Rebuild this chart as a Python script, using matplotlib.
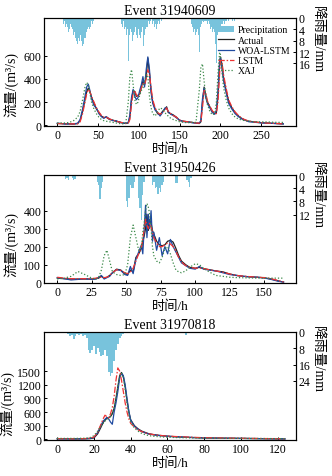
import matplotlib
matplotlib.use("Agg")
import matplotlib.pyplot as plt
import numpy as np
from matplotlib.patches import Patch
from matplotlib.lines import Line2D

plt.rcParams['font.family'] = ['Liberation Serif', 'Noto Sans CJK SC']
plt.rcParams['axes.unicode_minus'] = False

series_names = ["Actual", "WOA-LSTM", "LSTM", "XAJ"]

# ---------------- Event 31940609 ----------------
e1_title = "Event 31940609"
e1_t = [0, 5, 10, 15, 20, 25, 28, 31, 34, 36, 38, 40, 42, 45, 48, 51, 54, 57, 60, 64, 68, 72, 76, 80, 84,
        87, 89, 91, 93, 95, 97, 99, 101, 103, 105, 107, 109, 111, 113, 115, 117, 120, 123, 126, 129, 132,
        134, 136, 139, 142, 146, 150, 155, 160, 165, 170, 174, 176, 178, 180, 182, 184, 187, 190, 193, 195,
        197, 199, 200, 202, 204, 207, 210, 214, 218, 222, 226, 230, 235, 240, 250, 260, 270, 277]
e1_actual = [15, 15, 12, 12, 10, 15, 40, 120, 220, 290, 320, 290, 240, 190, 140, 110, 80, 65, 70, 50, 45, 35, 30, 20, 15,
             20, 70, 220, 300, 290, 250, 260, 270, 330, 380, 350, 420, 580, 450, 300, 200, 140, 100, 90, 120, 140,
             160, 110, 100, 90, 70, 40, 35, 30, 25, 20, 15, 30, 200, 330, 260, 200, 160, 120, 100, 110,
             250, 520, 590, 520, 400, 300, 210, 150, 110, 80, 60, 45, 35, 30, 22, 18, 15, 12]
e1_woa = [18, 15, 10, 12, 12, 18, 50, 140, 250, 330, 355, 300, 230, 170, 150, 100, 75, 60, 75, 55, 40, 40, 25, 20, 18,
          25, 90, 240, 310, 250, 220, 240, 300, 350, 420, 330, 480, 590, 480, 280, 190, 130, 110, 80, 110, 150,
          150, 120, 95, 85, 65, 45, 30, 30, 22, 18, 20, 40, 230, 320, 240, 190, 150, 110, 95, 130,
          300, 560, 580, 480, 380, 280, 190, 140, 100, 75, 55, 45, 30, 28, 20, 18, 14, 12]
e1_lstm = [15, 14, 12, 12, 12, 12, 30, 100, 200, 270, 310, 290, 250, 200, 150, 115, 85, 70, 70, 55, 45, 35, 28, 22, 18,
           18, 50, 180, 280, 300, 260, 250, 270, 320, 360, 350, 400, 480, 440, 320, 220, 150, 110, 95, 110, 130,
           150, 120, 100, 85, 70, 45, 35, 30, 25, 20, 18, 25, 150, 300, 280, 210, 165, 125, 105, 100,
           200, 450, 560, 540, 430, 320, 220, 160, 115, 85, 62, 48, 36, 30, 22, 18, 15, 12]
e1_xaj = [20, 20, 20, 25, 40, 70, 120, 220, 330, 370, 350, 280, 200, 140, 100, 70, 50, 40, 35, 30, 25, 20, 15, 12, 20,
          200, 420, 480, 350, 220, 180, 200, 260, 300, 320, 380, 440, 420, 250, 150, 100, 80, 120, 150, 140, 110,
          90, 80, 60, 50, 40, 30, 25, 22, 25, 25, 300, 500, 530, 380, 250, 180, 120, 90, 100, 200,
          450, 630, 610, 450, 320, 220, 150, 100, 70, 55, 45, 40, 35, 30, 30, 28, 25, 25]
e1_pt = list(range(7, 46)) + list(range(79, 129)) + list(range(165, 208)) + [210, 212, 215, 217, 220]
e1_p = [1, 2, 1, 3, 2, 4, 3, 5, 4, 2, 3, 5, 4, 6, 5, 7, 6, 8, 9, 7, 8, 6, 9, 8, 10, 9, 7, 6, 7, 5, 4, 3, 4, 2, 3, 1, 2, 1, 1,
        2, 3, 1, 4, 5, 3, 6, 4, 15, 5, 6, 4, 5, 8, 6, 4, 5, 3, 6, 7, 5, 4, 6, 7, 5, 3, 4, 10, 6, 4, 3, 2, 3, 1, 2, 1,
        0.5, 1, 2, 1, 3, 2, 1, 4, 2, 1, 2, 1, 0.5, 1,
        2, 3, 5, 4, 6, 3, 5, 4, 6, 12, 5, 3, 2, 1, 1.5, 1, 2, 1, 1, 2, 1, 3, 2, 4, 3, 5, 4, 6, 5, 9, 16, 6, 4, 5, 3,
        4, 2, 3, 2, 1, 2, 1, 1, 1, 0.5, 1, 1, 0.5]

# ---------------- Event 31950426 ----------------
e2_title = "Event 31950426"
e2_t = [0, 5, 10, 15, 20, 25, 28, 30, 32, 34, 36, 38, 40, 43, 46, 49, 51, 53, 55, 57, 59, 61, 62, 63, 64, 65, 66,
        67, 68, 69, 70, 72, 74, 76, 78, 80, 82, 84, 86, 88, 90, 93, 96, 100, 103, 106, 110, 115, 120, 125, 130,
        135, 140, 145, 150, 155, 160, 164]
e2_actual = [25, 22, 20, 20, 20, 20, 22, 25, 35, 25, 30, 40, 55, 75, 70, 50, 45, 70, 60, 140, 160, 190, 230, 260, 300,
             380, 290, 350, 330, 290, 270, 230, 210, 205, 210, 230, 235, 225, 190, 150, 120, 100, 85, 80, 85, 78,
             72, 65, 60, 48, 40, 35, 32, 30, 27, 20, 10, 3]
e2_woa = [28, 22, 15, 18, 22, 18, 20, 30, 40, 20, 28, 35, 55, 72, 68, 45, 40, 90, 50, 130, 170, 210, 160, 300, 430,
          250, 380, 300, 400, 230, 280, 180, 250, 150, 200, 160, 240, 200, 170, 140, 110, 95, 80, 75, 90, 75,
          70, 65, 55, 45, 40, 35, 32, 30, 26, 18, 8, 3]
e2_lstm = [30, 25, 22, 22, 22, 22, 25, 28, 30, 28, 30, 40, 55, 72, 68, 55, 50, 60, 80, 120, 160, 200, 240, 300, 350,
           320, 300, 330, 310, 280, 250, 220, 200, 200, 210, 220, 215, 200, 175, 140, 115, 95, 85, 80, 82, 78,
           72, 65, 58, 48, 40, 36, 33, 30, 28, 22, 12, 4]
e2_xaj = [20, 25, 35, 62, 45, 25, 20, 30, 70, 150, 180, 120, 60, 45, 40, 45, 100, 250, 320, 250, 180, 200, 280, 330,
          400, 440, 420, 380, 300, 200, 150, 120, 110, 140, 190, 200, 160, 110, 70, 60, 55, 65, 85, 105, 100, 80,
          60, 40, 35, 30, 28, 27, 26, 25, 25, 25, 25, 25]
e2_pt = [6, 7, 8, 11, 12, 13, 29, 30, 31, 32, 33, 50, 51, 52, 53, 54, 55, 56, 59, 60, 61, 62, 63,
         69, 70, 71, 72, 73, 74, 75, 76, 77, 86, 87, 94, 95, 96, 97]
e2_p = [1.2, 1, 1.5, 1, 1.5, 1.2, 2, 3, 7.3, 4, 2, 8, 9.6, 7, 3, 4, 4, 2, 7, 10, 13.6, 6, 2,
        3, 2, 4, 3.6, 5.9, 4, 5, 3, 2, 2.5, 2.5, 1.5, 2, 3.5, 1]

# ---------------- Event 31970818 ----------------
e3_title = "Event 31970818"
e3_t = [0, 5, 10, 15, 18, 20, 22, 24, 25, 26, 27, 28, 29, 30, 31, 32, 33, 34, 35, 36, 37, 38, 39, 40, 42, 44, 46,
        48, 50, 53, 56, 60, 65, 70, 80, 90, 100, 110, 120, 124]
e3_actual = [10, 10, 8, 10, 15, 30, 120, 280, 370, 420, 460, 480, 500, 560, 680, 900, 1150, 1400, 1470, 1380, 1150,
             850, 600, 430, 300, 230, 180, 150, 120, 100, 85, 70, 55, 45, 30, 25, 20, 15, 10, 8]
e3_woa = [12, 10, 10, 12, 20, 40, 150, 320, 400, 440, 480, 450, 380, 330, 600, 800, 1050, 1350, 1450, 1400, 1200,
          900, 620, 420, 290, 220, 170, 140, 115, 95, 80, 65, 55, 45, 30, 25, 20, 15, 10, 8]
e3_lstm = [15, 12, 12, 15, 25, 50, 150, 350, 450, 530, 500, 470, 560, 700, 950, 1300, 1570, 1500, 1300, 1050, 800,
           600, 450, 350, 270, 210, 170, 140, 120, 100, 85, 70, 60, 50, 35, 28, 22, 18, 12, 10]
e3_xaj = [20, 20, 20, 25, 40, 80, 180, 300, 350, 400, 430, 460, 500, 580, 700, 900, 1150, 1380, 1450, 1350, 1100,
          800, 550, 380, 250, 180, 130, 100, 80, 65, 55, 45, 38, 32, 25, 22, 20, 18, 15, 15]
e3_pt = [6, 7, 8, 9, 10, 11, 12, 13, 14, 15, 16, 17, 18, 19, 20, 21, 22, 23, 24, 25, 26, 27, 28, 29, 30, 31, 32,
         33, 34, 35, 36, 70]
e3_p = [1, 2, 1.5, 3.5, 2, 1, 1.5, 1, 2, 1.5, 3, 9, 10.5, 9, 7, 11, 8, 10, 12, 11.5, 9, 12, 19.5, 21.7, 20, 14, 9,
        6, 3, 2, 1, 1.5]

events = [
    dict(title=e1_title, t=e1_t, ys=[e1_actual, e1_woa, e1_lstm, e1_xaj], pt=e1_pt, p=e1_p,
         xlim=(-16.3, 292.6), xticks=[0, 50, 100, 150, 200, 250], ylim=(-6, 926), yticks=[0, 200, 400, 600],
         plim=(38, 0), pticks=[0, 4, 8, 12, 16], pos=(0.1325, 0.7338), rl=0.81, ll=0.39, lx=-0.13),
    dict(title=e2_title, t=e2_t, ys=[e2_actual, e2_woa, e2_lstm, e2_xaj], pt=e2_pt, p=e2_p,
         xlim=(-9.6, 173), xticks=[0, 25, 50, 75, 100, 125, 150], ylim=(-2, 598), yticks=[0, 100, 200, 300, 400],
         plim=(32.7, 0), pticks=[0, 4, 8, 12], pos=(0.1325, 0.4046), rl=0.82, ll=0.37, lx=-0.13),
    dict(title=e3_title, t=e3_t, ys=[e3_actual, e3_woa, e3_lstm, e3_xaj], pt=e3_pt, p=e3_p,
         xlim=(-7.2, 130), xticks=[0, 20, 40, 60, 80, 100, 120], ylim=(-15, 2360),
         yticks=[0, 300, 600, 900, 1200, 1500],
         plim=(53, 0), pticks=[0, 8, 16, 24], pos=(0.1325, 0.0755), rl=0.75, ll=0.35, lx=-0.145),
]

colors = ["#222222", "#1f4aa0", "#ee3333", "#3c8a4a"]
styles = ["-", "-", (0, (5, 1.5, 1.2, 1.5)), (0, (1, 1.6))]
bar_color = "#78c3dc"

fig = plt.figure(figsize=(3.32, 4.77), dpi=100)
W, H = 0.759, 0.2264
FS = 8.5

for i, ev in enumerate(events):
    ax = fig.add_axes([ev["pos"][0], ev["pos"][1], W, H])
    ax2 = ax.twinx()
    ax2.bar(ev["pt"], ev["p"], width=1.0, color=bar_color, linewidth=0)
    ax2.set_ylim(*ev["plim"])
    ax2.set_yticks(ev["pticks"])
    ax2.set_ylabel("降雨量/mm", rotation=270, fontsize=10, ha="center", va="center")
    ax2.yaxis.set_label_coords(1.087, ev["rl"])
    ax.set_zorder(ax2.get_zorder() + 1)
    ax.patch.set_visible(False)
    for y, c, ls, nm in zip(ev["ys"], colors, styles, series_names):
        ax.plot(ev["t"], y, color=c, linestyle=ls, linewidth=0.9, label=nm)
    ax.set_xlim(*ev["xlim"])
    ax.set_ylim(*ev["ylim"])
    ax.set_xticks(ev["xticks"])
    ax.set_yticks(ev["yticks"])
    ax.set_title(ev["title"], fontsize=10, pad=3)
    ax.set_xlabel("时间/h", fontsize=9.5, labelpad=1)
    ax.set_ylabel("流量/(m³/s)", fontsize=10, ha="center", va="center")
    ax.yaxis.set_label_coords(ev["lx"], ev["ll"])
    for a in (ax, ax2):
        a.tick_params(direction="in", length=2.5, width=0.7, labelsize=FS, pad=2)
        for sp in a.spines.values():
            sp.set_linewidth(0.8)
    ax.tick_params(axis="x", top=False)
    if i == 0:
        handles = [Patch(facecolor=bar_color, label="Precipitation")]
        handles += [Line2D([], [], color=c, linestyle=ls, linewidth=0.9, label=nm)
                    for c, ls, nm in zip(colors, styles, series_names)]
        ax.legend(handles=handles, loc="upper right", bbox_to_anchor=(1.0, 0.985), frameon=False,
                  fontsize=7, labelspacing=0.12, handlelength=1.6, handletextpad=0.4,
                  borderaxespad=0.2, handleheight=0.5)

fig.savefig("out.png", dpi=100)
